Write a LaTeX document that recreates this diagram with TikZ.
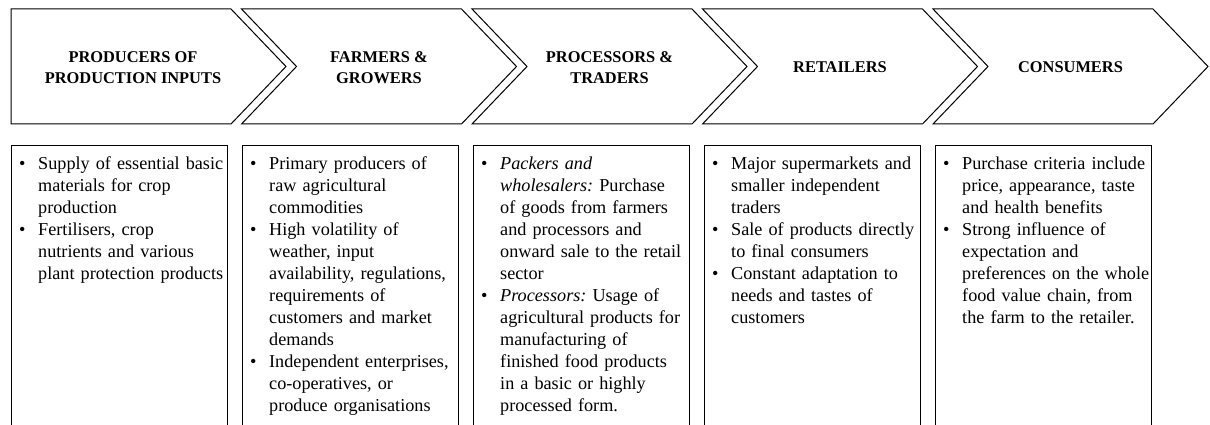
\documentclass[tikz,border=0pt]{standalone}
\usepackage{fontspec}
\setmainfont{Liberation Serif}
\begin{document}
\begin{tikzpicture}[x=1pt,y=-1pt,
  outline/.style={draw=black,line width=1pt,line join=miter},
  head/.style={font=\bfseries\fontsize{16.4}{21}\selectfont,align=center,inner sep=0pt},
  body/.style={font=\fontsize{18.2}{22}\selectfont\frenchspacing,align=left,text width=192pt,inner sep=0pt,anchor=north west}]
\newcommand{\itm}{\leavevmode\llap{\hbox to 19pt{\rule{0pt}{13pt}\textbullet\hfil}}}
\clip (0,0) rectangle (1210,425);
\fill[white] (0,0) rectangle (1210,425);

% chevron stages (first one has a flat back)
\draw[outline] (11,9) -- (231,9) -- (286,66.5) -- (231,124) -- (11,124) -- cycle;
\foreach \L in {241.5,472,702.5,933}{
  \draw[outline] (\L,9) -- ({\L+220},9) -- ({\L+275},66.5) -- ({\L+220},124)
    -- (\L,124) -- ({\L+55},66.5) -- cycle;
}

\node[head] (h1) at (133,67.5) {PRODUCERS OF\\PRODUCTION INPUTS};
\node[head] (h2) at (379,67.5) {FARMERS \&\\GROWERS};
\node[head] (h3) at (609.5,67.5) {PROCESSORS \&\\TRADERS};
\node[head] (h4) at (840,67.5) {RETAILERS};
\node[head] (h5) at (1070.5,67.5) {CONSUMERS};

% description columns, open at the bottom
\foreach \L in {11,242,473,704,935}{
  \draw[outline] (\L,426) -- (\L,146) -- ({\L+216},146) -- ({\L+216},426);
}

\node[body] (t1) at (38,156) {\itm Supply of essential basic\\materials for crop\\production\\
  \itm Fertilisers, crop\\nutrients and various\\plant protection products};
\node[body] (t2) at (269,156) {\itm Primary producers of\\raw agricultural\\commodities\\
  \itm High volatility of\\weather, input\\availability, regulations,\\requirements of\\customers and market\\demands\\
  \itm Independent enterprises,\\co-operatives, or\\produce organisations};
\node[body] (t3) at (500,156) {\itm\textit{Packers and}\\\textit{wholesalers:} Purchase\\of goods from farmers\\and processors and\\onward sale to the retail\\sector\\
  \itm\textit{Processors:} Usage of\\agricultural products for\\manufacturing of\\finished food products\\in a basic or highly\\processed form.};
\node[body] (t4) at (731,156) {\itm Major supermarkets and\\smaller independent\\traders\\
  \itm Sale of products directly\\to final consumers\\
  \itm Constant adaptation to\\needs and tastes of\\customers};
\node[body] (t5) at (962,156) {\itm Purchase criteria include\\price, appearance, taste\\and health benefits\\
  \itm Strong influence of\\expectation and\\preferences on the whole\\food value chain, from\\the farm to the retailer.};
\end{tikzpicture}
\end{document}
